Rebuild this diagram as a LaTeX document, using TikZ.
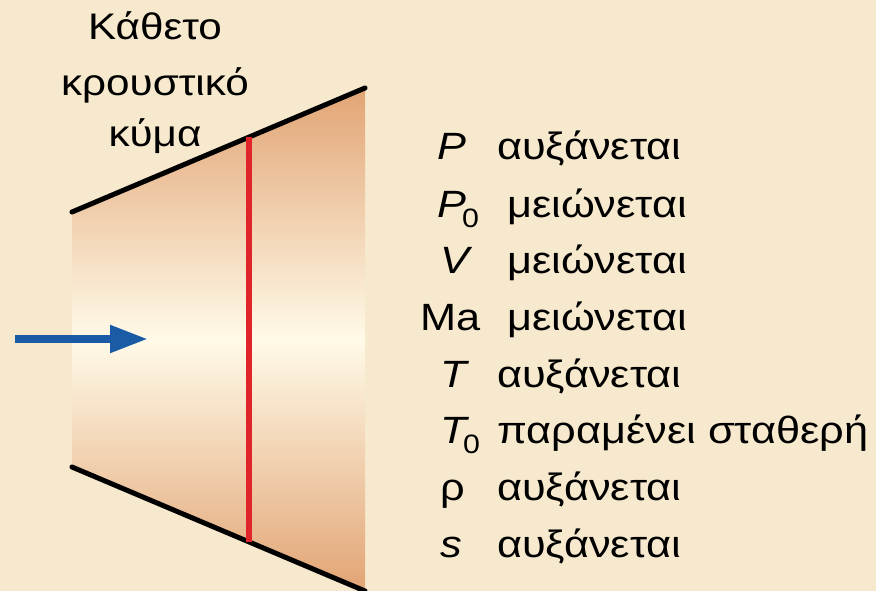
\documentclass[tikz,border=0pt]{standalone}
\usepackage{fontspec}
\setmainfont[FakeStretch=1.14]{Liberation Sans}
\usetikzlibrary{calc, arrows.meta}
\definecolor{parchment}{HTML}{F7E9CD}
\definecolor{ducttan}{HTML}{E2A474}
\definecolor{ductcream}{HTML}{FFFAE8}
\definecolor{flowblue}{HTML}{1A5BA6}
\definecolor{shockred}{HTML}{E0252A}

\begin{document}
\begin{tikzpicture}[
  x=1pt, y=-1pt,
  wall/.style={line width=5pt, line cap=round},
  shock/.style={line width=6pt, draw=shockred},
  flow/.style={line width=8pt, draw=flowblue, -{Triangle[length=38pt, width=26pt]}},
  title/.style={anchor=base, inner sep=0pt, font=\fontsize{37}{44}\selectfont},
  sym/.style={anchor=base west, inner sep=0pt, font=\fontsize{38}{44}\selectfont},
  word/.style={anchor=base west, inner sep=0pt, font=\fontsize{38}{44}\selectfont}
]
\fill[parchment] (0,0) rectangle (876,591);
\useasboundingbox (0,0) rectangle (876,591);

\coordinate (tl) at (72,212);
\coordinate (tr) at (365,88);
\coordinate (bl) at (72,467);
\coordinate (br) at (365,591);
\shade[top color=ducttan, bottom color=ducttan, middle color=ductcream]
  (tl) -- (tr) -- (br) -- (bl) -- cycle;
\draw[wall] (tl) -- (tr);
\draw[wall] (bl) -- (br);

\coordinate (shocktop) at ($(tl)!0.604!(tr)$);
\coordinate (shockbot) at ($(bl)!0.604!(br)$);
\draw[shock] (shocktop) -- (shockbot);

\coordinate (flowin) at (15,339);
\coordinate (flowout) at (148,339);
\draw[flow] (flowin) -- (flowout);

\node[title] (title1) at (155,40) {Κάθετο};
\node[title] (title2) at (155,96) {κρουστικό};
\node[title] (title3) at (155,147) {κύμα};

\node[sym] (sP) at (437,160) {\textit{P}};
\node[word] (wP) at (497,160) {αυξάνεται};
\node[sym] (sP0) at (437,217) {\textit{P}\kern-4pt\textsubscript{0}};
\node[word] (wP0) at (507,217) {μειώνεται};
\node[sym] (sV) at (440,273) {\textit{V}};
\node[word] (wV) at (507,273) {μειώνεται};
\node[sym] (sMa) at (420,330) {Ma};
\node[word] (wMa) at (507,330) {μειώνεται};
\node[sym] (sT) at (440,387) {\textit{T}};
\node[word] (wT) at (497,387) {αυξάνεται};
\node[sym] (sT0) at (440,443) {\textit{T}\kern-6pt\textsubscript{0}};
\node[word] (wT0) at (497,443) {παραμένει σταθερή};
\node[sym] (srho) at (440,500) {ρ};
\node[word] (wrho) at (497,500) {αυξάνεται};
\node[sym] (ss) at (440,557) {\textit{s}};
\node[word] (ws) at (497,557) {αυξάνεται};
\end{tikzpicture}
\end{document}
